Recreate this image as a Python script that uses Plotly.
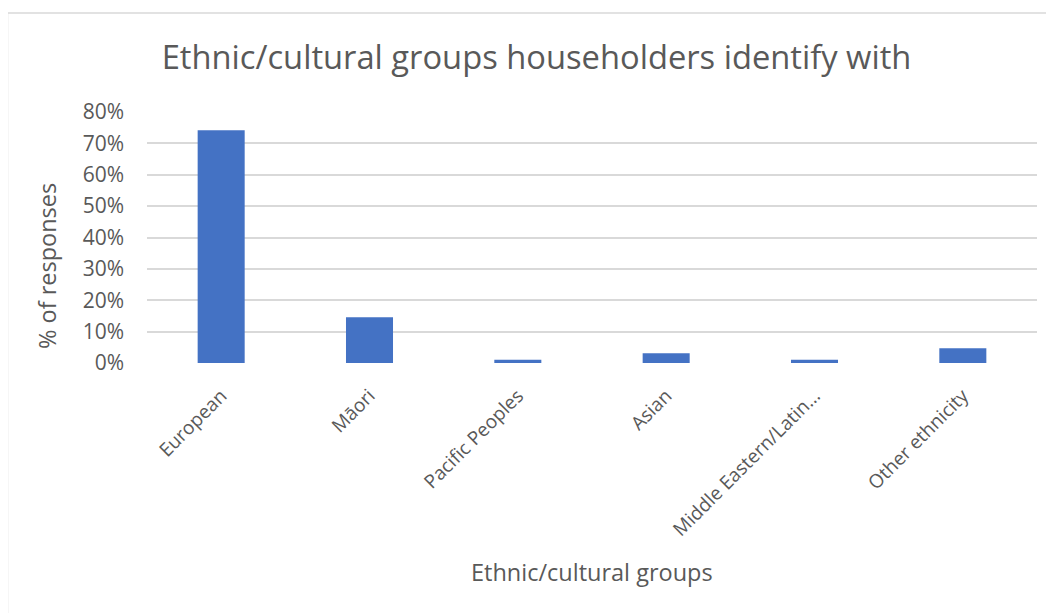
import plotly.graph_objects as go

categories = ["European", "Māori", "Pacific Peoples", "Asian", "Middle Eastern/Latin...", "Other ethnicity"]
values = [0.742, 0.146, 0.010, 0.031, 0.010, 0.047]
tick_vals = [0, 0.1, 0.2, 0.3, 0.4, 0.5, 0.6, 0.7, 0.8]
tick_text = ["0%", "10%", "20%", "30%", "40%", "50%", "60%", "70%", "80%"]

GRAY = "#595959"
FONT = "Open Sans"

fig = go.Figure(go.Bar(x=categories, y=values, marker=dict(color="#4472C4", line=dict(width=0))))

OFF = 8  # default page body margin
W, H = 1054, 613
# target plot area in page pixels: x 147..1037, y 112..363
L = 147 - OFF
T = 112 - OFF
R = W - (1037 - OFF)
B = H - (363 - OFF)
pw = W - L - R
ph = H - T - B


def px_x(p):
    return (p - OFF - L) / pw


def px_y(p):
    return (H - B - (p - OFF)) / ph


fig.update_layout(
    width=W, height=H,
    margin=dict(l=L, r=R, t=T, b=B),
    paper_bgcolor="white", plot_bgcolor="white",
    font=dict(family=FONT, color=GRAY, size=18),
    title=dict(text="Ethnic/cultural groups householders identify with",
               font=dict(size=32.7, color=GRAY, family=FONT),
               x=(536.5 - OFF) / W, xref="container", xanchor="center",
               y=1 - (58 - OFF) / H, yref="container", yanchor="middle"),
    bargap=0.683,
    showlegend=False,
    xaxis=dict(tickangle=-45, tickfont=dict(size=19, color=GRAY), showgrid=False,
               showline=False, ticks="", ticklabelstandoff=17),
    yaxis=dict(range=[0, 0.8], tickvals=tick_vals, ticktext=tick_text,
               tickfont=dict(size=21, color=GRAY), gridcolor="#d9d9d9", gridwidth=1.5,
               zeroline=False, showline=False, ticks="", ticklabelstandoff=22),
    annotations=[
        dict(text="Ethnic/cultural groups", xref="paper", yref="paper",
             x=px_x(591.5), y=px_y(572), xanchor="center", yanchor="middle",
             showarrow=False, font=dict(size=23.5, color=GRAY, family=FONT)),
        dict(text="% of responses", xref="paper", yref="paper", textangle=-90,
             x=px_x(47), y=px_y(266), xanchor="center", yanchor="middle",
             showarrow=False, font=dict(size=23.5, color=GRAY, family=FONT)),
    ],
    shapes=[
        dict(type="line", xref="paper", yref="paper", x0=px_x(7.5), x1=px_x(1070), y0=px_y(13), y1=px_y(13),
             line=dict(color="#d9d9d9", width=1.5)),
        dict(type="line", xref="paper", yref="paper", x0=px_x(7.5), x1=px_x(7.5), y0=px_y(13), y1=px_y(630),
             line=dict(color="#d9d9d9", width=1.5)),
    ],
)

fig.write_html("out.html")
